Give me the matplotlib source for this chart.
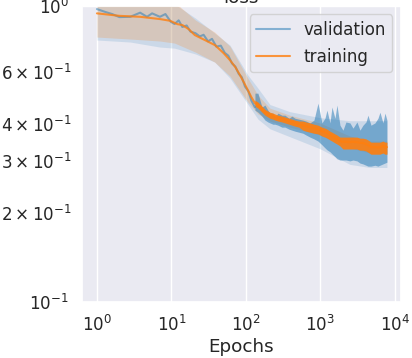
import matplotlib
matplotlib.use("Agg")
import matplotlib.pyplot as plt
import seaborn as sns

# validation loss, early epochs (single line)
val_epochs = [1, 1.3, 1.6, 2.0, 2.8, 3.8, 4.7, 5.5, 7.0, 8.3, 9.8, 11, 12.5, 14, 16, 18,
              21, 24, 27, 31, 35, 40, 46, 52, 58, 65, 72, 80, 88, 97, 108, 118, 132]
val_loss = [0.977, 0.955, 0.940, 0.918, 0.920, 0.950, 0.920, 0.945, 0.920, 0.940, 0.885,
            0.870, 0.895, 0.850, 0.860, 0.820, 0.810, 0.790, 0.800, 0.760, 0.775, 0.730,
            0.735, 0.695, 0.680, 0.640, 0.625, 0.590, 0.575, 0.535, 0.515, 0.480, 0.455]

# training loss, mean over runs
train_epochs = [1, 2, 3.8, 7, 9.6, 12, 14, 17, 20.6, 28, 38.4, 50, 61, 72, 83, 95, 106, 118,
                132, 145, 164, 180, 197, 210, 230, 245, 269, 304, 334, 378, 414, 455, 514,
                582, 639, 723, 818, 926, 1047, 1149, 1223, 1341, 1427, 1565, 1665, 1827,
                2004, 2199, 2489, 2731, 3090, 3389, 3720, 4081, 4341, 4763, 5389, 5912,
                6290, 6902, 7341, 7800]
train_loss = [0.945, 0.927, 0.920, 0.904, 0.892, 0.869, 0.863, 0.836, 0.798, 0.768, 0.738,
              0.694, 0.657, 0.622, 0.585, 0.549, 0.520, 0.493, 0.470, 0.463, 0.449, 0.438,
              0.432, 0.428, 0.425, 0.422, 0.418, 0.415, 0.412, 0.409, 0.406, 0.403, 0.399,
              0.396, 0.393, 0.390, 0.387, 0.384, 0.378, 0.375, 0.373, 0.367, 0.364, 0.358,
              0.356, 0.350, 0.348, 0.348, 0.347, 0.348, 0.347, 0.345, 0.345, 0.342, 0.339,
              0.334, 0.334, 0.333, 0.334, 0.337, 0.334, 0.334]

# late epochs: per-epoch spread of the noisy curves
late_epochs = [132, 145, 164, 180, 197, 210, 230, 245, 269, 304, 334, 378, 414, 455, 514,
               582, 639, 723, 818, 926, 1047, 1149, 1223, 1341, 1427, 1565, 1665, 1827,
               2004, 2199, 2489, 2731, 3090, 3389, 3720, 4081, 4341, 4763, 5389, 5912,
               6290, 6902, 7341, 7800]
val_hi = [0.508, 0.508, 0.456, 0.463, 0.445, 0.435, 0.435, 0.422, 0.435, 0.428, 0.428,
          0.418, 0.425, 0.418, 0.415, 0.412, 0.409, 0.403, 0.412, 0.470, 0.403, 0.418,
          0.445, 0.403, 0.456, 0.418, 0.463, 0.396, 0.381, 0.406, 0.403, 0.387, 0.406,
          0.381, 0.396, 0.406, 0.428, 0.396, 0.403, 0.418, 0.438, 0.403, 0.435, 0.412]
val_lo = [0.445, 0.438, 0.425, 0.412, 0.406, 0.403, 0.399, 0.399, 0.396, 0.390, 0.390,
          0.384, 0.381, 0.378, 0.375, 0.372, 0.367, 0.361, 0.356, 0.350, 0.340, 0.332,
          0.327, 0.322, 0.317, 0.310, 0.305, 0.302, 0.302, 0.302, 0.300, 0.302, 0.300,
          0.295, 0.293, 0.290, 0.288, 0.288, 0.290, 0.288, 0.290, 0.293, 0.295, 0.297]
train_hi = [0.481, 0.474, 0.459, 0.448, 0.442, 0.438, 0.435, 0.432, 0.428, 0.425, 0.422,
            0.418, 0.415, 0.412, 0.409, 0.409, 0.406, 0.403, 0.399, 0.396, 0.390, 0.387,
            0.384, 0.378, 0.375, 0.370, 0.367, 0.361, 0.361, 0.361, 0.361, 0.361, 0.361,
            0.358, 0.358, 0.356, 0.353, 0.347, 0.347, 0.347, 0.347, 0.350, 0.347, 0.347]
train_lo = [0.459, 0.452, 0.438, 0.428, 0.422, 0.418, 0.415, 0.412, 0.409, 0.406, 0.403,
            0.399, 0.396, 0.393, 0.390, 0.381, 0.378, 0.375, 0.372, 0.370, 0.364, 0.361,
            0.358, 0.353, 0.350, 0.345, 0.342, 0.337, 0.329, 0.329, 0.329, 0.329, 0.329,
            0.326, 0.326, 0.324, 0.321, 0.316, 0.316, 0.316, 0.316, 0.319, 0.316, 0.316]

# std band over runs
band_epochs = [1, 2.8, 7, 11, 21, 38, 61, 106, 145, 210, 388, 980, 2480, 4600, 7800]
val_band_lo = [0.768, 0.756, 0.727, 0.721, 0.689, 0.647, 0.571, 0.466, 0.415, 0.385, 0.362,
               0.330, 0.292, 0.285, 0.285]
val_band_hi = [1.25, 1.25, 1.25, 1.016, 0.911, 0.811, 0.738, 0.585, 0.528, 0.465, 0.440,
               0.420, 0.410, 0.410, 0.410]
train_band_lo = [0.786, 0.774, 0.762, 0.750, 0.699, 0.647, 0.580, 0.474, 0.432, 0.409, 0.390,
                 0.367, 0.332, 0.319, 0.319]
train_band_hi = [1.25, 1.25, 1.25, 1.032, 0.897, 0.817, 0.732, 0.571, 0.500, 0.452, 0.428,
                 0.403, 0.364, 0.350, 0.350]

sns.set_theme(style="darkgrid", font_scale=1.1)
blue = "#1f77b4"
orange = "#ff7f0e"

fig = plt.figure(figsize=(4.12, 3.58), dpi=100)
ax = fig.add_axes([0.199, 0.156, 0.774, 0.827])

ax.fill_between(band_epochs, val_band_lo, val_band_hi, color=blue, alpha=0.15, lw=0)
ax.fill_between(band_epochs, train_band_lo, train_band_hi, color=orange, alpha=0.2, lw=0)

ax.plot(val_epochs, val_loss, color=blue, alpha=0.5, lw=1.5, label="validation")
ax.fill_between(late_epochs, val_lo, val_hi, color=blue, alpha=0.5, lw=0)

ax.fill_between(late_epochs, train_lo, train_hi, color=orange, alpha=0.9, lw=0)
ax.plot(train_epochs, train_loss, color=orange, alpha=0.8, lw=1.5, label="training")

ax.set_xscale("log")
ax.set_yscale("log")
ax.set_ylim(0.1, 1.0)
ax.set_xlim(0.63, 12000)
ax.set_xlabel("Epochs", labelpad=2)
ax.set_title("loss", pad=2)
ax.legend(loc="upper right")

fig.savefig("out.png", dpi=100)
